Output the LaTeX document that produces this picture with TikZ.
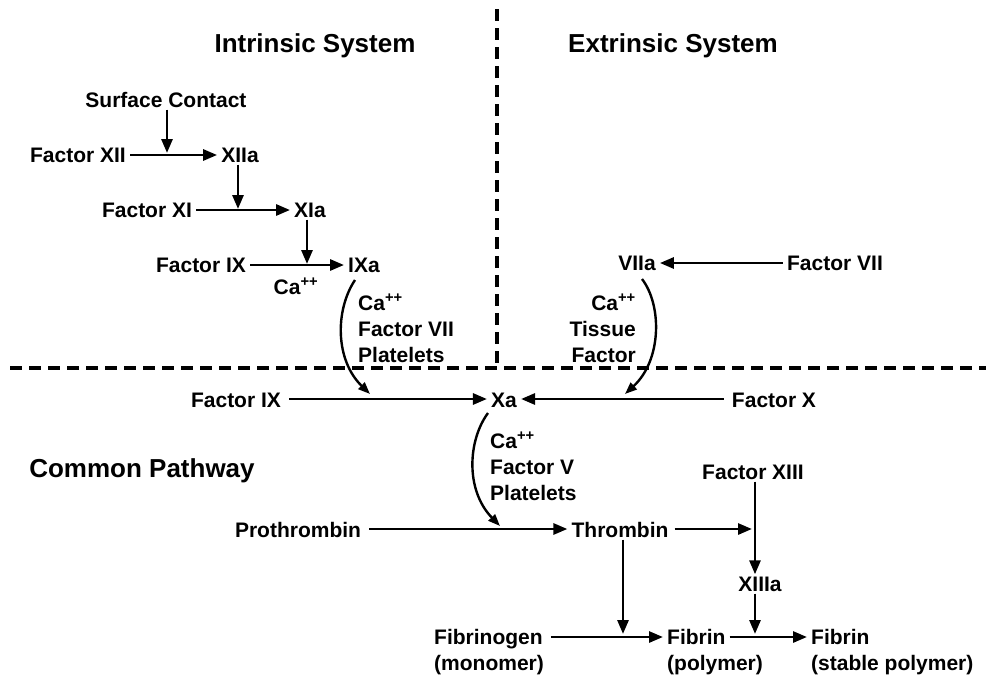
\documentclass[tikz,border=0pt]{standalone}
\usepackage{fontspec}
\setmainfont{Liberation Sans}
\usetikzlibrary{arrows.meta}
\begin{document}
\begin{tikzpicture}[x=1pt,y=-1pt,
 lbl/.style={font=\bfseries\fontsize{21}{25}\selectfont, inner xsep=4pt, inner ysep=2pt, text height=15pt, text depth=0pt},
 multi/.style={font=\bfseries\fontsize{21}{26}\selectfont, inner sep=0pt},
 ttl/.style={font=\bfseries\fontsize{26}{30}\selectfont, inner sep=0pt, text height=19pt, text depth=0pt},
 arr/.style={line width=2.8pt, -{Triangle[length=14pt,width=11pt]}},
 carr/.style={line width=2.4pt, -{Triangle[length=12pt,width=9pt]}},
 sep/.style={line width=3.4pt, dash pattern=on 12pt off 7pt}]
\useasboundingbox (0,0) rectangle (986,680);

% separators
\coordinate (sv1) at (497,9);
\coordinate (sv2) at (497,368);
\coordinate (sh1) at (10,368);
\coordinate (sh2) at (986,368);
\draw[sep] (sv1) -- (sv2);
\draw[sep] (sh1) -- (sh2);

% titles
\node[ttl] (intr) at (315,43) {Intrinsic System};
\node[ttl] (extr) at (673,43) {Extrinsic System};
\node[ttl] (comm) at (142,468) {Common Pathway};

% intrinsic
\node[lbl] (surf) at (166,100) {Surface Contact};
\node[lbl] (f12) at (78,155) {Factor XII};
\node[lbl] (x12a) at (240,155) {XIIa};
\node[lbl] (f11) at (147,210) {Factor XI};
\node[lbl] (x11a) at (310,210) {XIa};
\node[lbl] (f9) at (201,265) {Factor IX};
\node[lbl] (x9a) at (364,265) {IXa};
\node[lbl] (ca1) at (296,287) {Ca\textsuperscript{++}};
\node[multi, anchor=north west, align=left] (lab1) at (358,294) {Ca\textsuperscript{++}\\Factor VII\\Platelets};

\coordinate (c1) at (167,153);
\coordinate (c2) at (238,209);
\coordinate (c3) at (307,264);
\draw[arr] (f12.east) -- (x12a.west);
\draw[arr] (surf.south -| c1) -- (c1);
\draw[arr] (f11.east) -- (x11a.west);
\draw[arr] (x12a.south -| c2) -- (c2);
\draw[arr] (f9.east) -- (x9a.west);
\draw[arr] (x11a.south -| c3) -- (c3);

% extrinsic
\node[lbl] (v7a) at (637,263) {VIIa};
\node[lbl] (f7) at (835,263) {Factor VII};
\node[multi, anchor=north east, align=right] (lab2) at (636,294) {Ca\textsuperscript{++}\\Tissue\\Factor};
\draw[arr] (f7.west) -- (v7a.east);

% common pathway
\node[lbl] (f9b) at (236,400) {Factor IX};
\node[lbl] (xa) at (504,400) {Xa};
\node[lbl] (f10) at (774,400) {Factor X};
\node[multi, anchor=north west, align=left] (lab3) at (490,432) {Ca\textsuperscript{++}\\Factor V\\Platelets};
\node[lbl] (prot) at (298,530) {Prothrombin};
\node[lbl] (thr) at (620,530) {Thrombin};
\node[lbl] (f13) at (753,472) {Factor XIII};
\node[lbl] (x13a) at (760,584) {XIIIa};
\node[lbl, anchor=west] (fbg) at (430,637) {Fibrinogen};
\node[lbl, anchor=west] (fbgm) at (430,663) {(monomer)};
\node[lbl, anchor=west] (fb) at (663,637) {Fibrin};
\node[lbl, anchor=west] (fbp) at (663,663) {(polymer)};
\node[lbl, anchor=west] (fbs) at (807,637) {Fibrin};
\node[lbl, anchor=west] (fbsp) at (807,663) {(stable polymer)};

\coordinate (ixs) at (355,280);
\coordinate (ixe) at (370,394);
\coordinate (vis) at (642,279);
\coordinate (vie) at (625,394);
\coordinate (xas) at (488,413);
\coordinate (xae) at (500,526);
\coordinate (c4) at (752,529);
\coordinate (c5) at (755,634);
\coordinate (c6) at (623,634);

\draw[arr] (f9b.east) ++(4,-1) -- (xa.west |- 0,399);
\draw[arr] (f10.west) ++(-4,-1) -- (xa.east |- 0,399);
\draw[carr] (ixs) .. controls (335,310) and (335,360) .. (ixe);
\draw[carr] (vis) .. controls (662,305) and (662,360) .. (vie);
\draw[carr] (xas) .. controls (468,440) and (465,490) .. (xae);
\draw[arr] (prot.east) ++(4,-1) -- (thr.west |- 0,529);
\draw[arr] (thr.east) ++(2,-1) -- (c4);
\draw[arr] (f13.south -| c5) -- (x13a.north -| c5);
\draw[arr] (x13a.south -| c5) -- (c5);
\draw[arr] (thr.south -| c6) -- (c6);
\draw[arr] (fbg.east) ++(4,0) -- (fb.west);
\draw[arr] (fb.east) -- (fbs.west);
\end{tikzpicture}
\end{document}
